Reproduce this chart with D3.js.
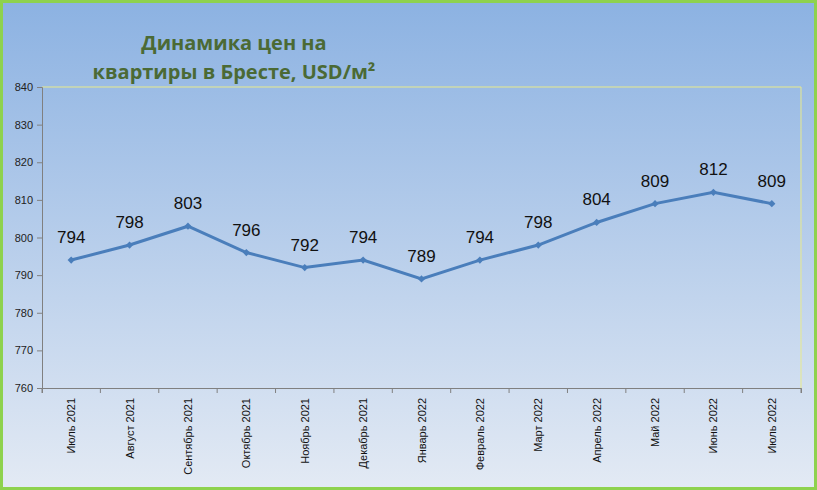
<!DOCTYPE html><html><head><meta charset="utf-8"><script src="https://cdn.jsdelivr.net/npm/d3@7"></script>
<style>body{margin:0}svg{display:block}</style></head><body><svg width="817" height="490"></svg><script>
const categories=["Июль 2021","Август 2021","Сентябрь 2021","Октябрь 2021","Ноябрь 2021","Декабрь 2021","Январь 2022","Февраль 2022","Март 2022","Апрель 2022","Май 2022","Июнь 2022","Июль 2022"];
const values=[794,798,803,796,792,794,789,794,798,804,809,812,809];
const yTicks=[760,770,780,790,800,810,820,830,840];
const svg=d3.select("svg");
const defs=svg.append("defs");
const g=defs.append("linearGradient").attr("id","bg").attr("x1",0).attr("y1",0).attr("x2",0).attr("y2",1);
g.append("stop").attr("offset","0%").attr("stop-color","#8cb2e2");
g.append("stop").attr("offset","100%").attr("stop-color","#e3eaf4");
svg.append("rect").attr("x",1.5).attr("y",1.5).attr("width",814).attr("height",487).attr("fill","url(#bg)").attr("stroke","#8ed24e").attr("stroke-width",3);
const L=42,R=801,T=87,B=388;
const x=d3.scaleBand().domain(categories).range([L,R]);
const y=d3.scaleLinear().domain([760,840]).range([B,T]);
svg.append("path").attr("d",`M${L},${T}H${R}V${B}`).attr("fill","none").attr("stroke","#e8ea8c").attr("stroke-width",1);
svg.append("g").attr("transform",`translate(${L},0)`).call(d3.axisLeft(y).tickValues(yTicks).tickSize(5).tickPadding(4))
 .call(a=>{a.select(".domain").attr("stroke","#808080");a.selectAll("line").attr("stroke","#808080");a.selectAll("text").attr("font-family","Liberation Sans, Arial").attr("font-size",11).attr("fill","#222");});
svg.append("g").attr("transform",`translate(0,${B})`).call(d3.axisBottom(x).tickSize(5).tickFormat(""))
 .call(a=>{a.select(".domain").attr("stroke","#808080");a.selectAll("line").attr("stroke","#808080").attr("transform",`translate(${-x.bandwidth()/2},0)`);});
svg.append("line").attr("x1",R).attr("x2",R).attr("y1",B).attr("y2",B+5).attr("stroke","#808080");
svg.append("g").selectAll("text").data(categories).join("text")
 .attr("transform",d=>`translate(${x(d)+x.bandwidth()/2+4},398) rotate(-90)`).attr("text-anchor","end")
 .attr("font-family","Liberation Sans, Arial").attr("font-size",11).attr("fill","#111").text(d=>d);
const cx=(d,i)=>x(categories[i])+x.bandwidth()/2;
svg.append("path").datum(values).attr("d",d3.line().x(cx).y(d=>y(d))).attr("fill","none").attr("stroke","#4a7ebb").attr("stroke-width",3);
svg.append("g").selectAll("path").data(values).join("path").attr("d",d3.symbol(d3.symbolSquare,26))
 .attr("transform",(d,i)=>`translate(${cx(d,i)},${y(d)}) rotate(45)`).attr("fill","#4a7ebb");
svg.append("g").selectAll("text").data(values).join("text").attr("x",cx).attr("y",d=>y(d)-17)
 .attr("text-anchor","middle").attr("font-family","Liberation Sans, Arial").attr("font-size",17).attr("fill","#111").text(d=>d);
const t=svg.append("text").attr("text-anchor","middle").attr("font-family","Open Sans, sans-serif").attr("font-weight","bold").attr("font-size",20).attr("fill","#4b6a35");
t.append("tspan").attr("x",234).attr("y",50).text("Динамика цен на");
t.append("tspan").attr("x",234).attr("y",79).text("квартиры в Бресте, USD/м²");
</script></body></html>
